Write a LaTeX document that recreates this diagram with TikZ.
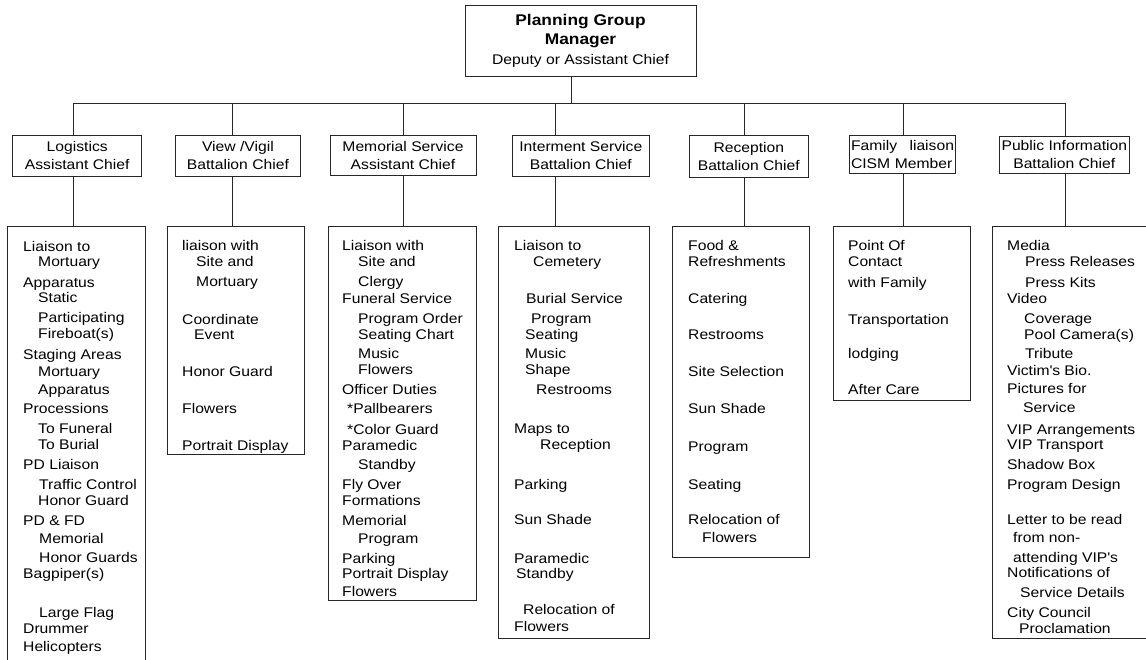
\documentclass[tikz,border=0pt]{standalone}
\usepackage{fontspec}
\setmainfont{Liberation Sans}[FakeStretch=1.12]
\newcommand\titlefont{\fontsize{15.5}{19.5}\selectfont\bfseries}
\tikzset{
	box/.style={draw=black!85, line width=0.9pt, inner sep=0pt, align=center, font=\fontsize{14}{18}\selectfont},
	listbox/.style={draw=black!85, line width=0.9pt, inner sep=0pt},
	item/.style={anchor=base west, inner sep=0pt, yshift=-5pt, font=\fontsize{14}{16}\selectfont},
	wire/.style={draw=black!85, line width=0.9pt}
}

\begin{document}
\begin{tikzpicture}[x=1pt, y=-1pt]
				\useasboundingbox (0,0) rectangle (1146,659);
				
				\node[box, minimum width=231, minimum height=71, font=\fontsize{14}{19.5}\selectfont] (plan) at (580.5,40.5) {{\titlefont Planning Group}\\{\titlefont Manager}\\Deputy or Assistant Chief};
				
				% heads
				\node[box, minimum width=129, minimum height=41] (logi) at (77.2,155.5) {Logistics\\Assistant Chief};
				\node[box, minimum width=124.3, minimum height=41] (view) at (237.9,155.5) {View /Vigil\\Battalion Chief};
				\node[box, minimum width=146, minimum height=40] (memo) at (403,155) {Memorial Service\\Assistant Chief};
				\node[box, minimum width=137, minimum height=41.7] (inter) at (580.8,155.9) {Interment Service\\Battalion Chief};
				\node[box, minimum width=119, minimum height=42] (recep) at (748.8,156) {Reception\\Battalion Chief};
				\node[box, minimum width=106.4, minimum height=38, text width=103, align=left] (fam) at (902.5,154) {Family\hfill liaison\\CISM Member};
				\node[box, minimum width=130, minimum height=36.3] (pub) at (1064.3,154.8) {Public Information\\Battalion Chief};
				
				% lists
				\node[listbox, minimum width=138, minimum height=474] (logilist) at (76,463) {};
				\node[listbox, minimum width=137, minimum height=228] (viewlist) at (235.5,340) {};
				\node[listbox, minimum width=148, minimum height=374] (memolist) at (402,413) {};
				\node[listbox, minimum width=151, minimum height=412] (interlist) at (573.5,432) {};
				\node[listbox, minimum width=137, minimum height=331] (receplist) at (740.5,391.5) {};
				\node[listbox, minimum width=137, minimum height=174] (famlist) at (901.5,313) {};
				\node[listbox, minimum width=178, minimum height=412] (publist) at (1081,432) {};
				
				% wires
				\coordinate (bus) at (571.7,103);
				\coordinate (d1) at (73,103);
				\coordinate (d2) at (232.7,103);
				\coordinate (d3) at (403.3,103);
				\coordinate (d4) at (555,103);
				\coordinate (d5) at (744.3,103);
				\coordinate (d6) at (903.3,103);
				\coordinate (d7) at (1065,103);
				\draw[wire] (bus |- plan.south) -- (bus);
				\draw[wire] (d1) -- (d7);
				\foreach \d/\h/\l in {d1/logi/logilist, d2/view/viewlist, d3/memo/memolist, d4/inter/interlist, d5/recep/receplist, d6/fam/famlist, d7/pub/publist} {
					\draw[wire] (\d) -- (\d |- \h.north);
					\draw[wire] (\d |- \h.south) -- (\d |- \l.north);
				}
				
				% list texts
				\foreach \py/\px/\txt in {246/23/Liaison to, 261/38/Mortuary, 282/23/Apparatus, 297/38/Static, 317/38/Participating, 333/38/Fireboat(s), 354/23/Staging Areas, 371/38/Mortuary, 389/38/Apparatus, 408/23/Processions, 428/38/To Funeral, 444/38/To Burial, 464/23/PD Liaison, 484/39/Traffic Control, 500/38/Honor Guard, 520/23/PD \& FD, 538/39/Memorial, 557/39/Honor Guards, 573/23/Bagpiper(s), 612/39/Large Flag, 628/23/Drummer, 646/23/Helicopters}
					\node[item] (lg\py) at (\px,\py) {\txt};
				\foreach \py/\px/\txt in {245/182/liaison with, 261/196/Site and, 281/196/Mortuary, 319/182/Coordinate, 334/194/Event, 371/182/Honor Guard, 408/182/Flowers, 445/182/Portrait Display}
					\node[item] (vw\py) at (\px,\py) {\txt};
				\foreach \py/\px/\txt in {245/342/Liaison with, 261/358/Site and, 281/358/Clergy, 298/342/Funeral Service, 318/358/Program Order, 334/358/Seating Chart, 353/358/Music, 369/358/Flowers, 389/342/Officer Duties, 408/347/*Pallbearers, 429/347/*Color Guard, 445/342/Paramedic, 464/358/Standby, 484/342/Fly Over, 500/342/Formations, 520/342/Memorial, 538/358/Program, 558/342/Parking, 573/342/Portrait Display, 591/342/Flowers}
					\node[item] (mm\py) at (\px,\py) {\txt};
				\foreach \py/\px/\txt in {245/514/Liaison to, 261/533/Cemetery, 298/526/Burial Service, 318/531/Program, 334/525/Seating, 353/525/Music, 369/525/Shape, 389/536/Restrooms, 428/514/Maps to, 444/540/Reception, 484/514/Parking, 519/514/Sun Shade, 558/514/Paramedic, 573/516/Standby, 609/523/Relocation of, 626/514/Flowers}
					\node[item] (in\py) at (\px,\py) {\txt};
				\foreach \py/\px/\txt in {245/688/Food \&, 261/688/Refreshments, 298/688/Catering, 334/688/Restrooms, 371/688/Site Selection, 408/688/Sun Shade, 446/688/Program, 484/688/Seating, 519/688/Relocation of, 537/702/Flowers}
					\node[item] (rc\py) at (\px,\py) {\txt};
				\foreach \py/\px/\txt in {245/848/Point Of, 261/848/Contact, 282/848/with Family, 319/848/Transportation, 353/848/lodging, 389/848/After Care}
					\node[item] (fm\py) at (\px,\py) {\txt};
				\foreach \py/\px/\txt in {245/1007/Media, 261/1025/Press Releases, 282/1025/Press Kits, 298/1007/Video, 318/1024/Coverage, 334/1024/Pool Camera(s), 353/1025/Tribute, 370/1007/Victim\textquotesingle s Bio., 388/1007/Pictures for, 407/1023/Service, 429/1007/VIP Arrangements, 444/1007/VIP Transport, 464/1007/Shadow Box, 484/1007/Program Design, 519/1007/Letter to be read, 537/1013/from non-, 557/1013/attending VIP\textquotesingle s, 572/1007/Notifications of, 592/1020/Service Details, 612/1007/City Council, 628/1019/Proclamation}
					\node[item] (pb\py) at (\px,\py) {\txt};
\end{tikzpicture}
\end{document}
